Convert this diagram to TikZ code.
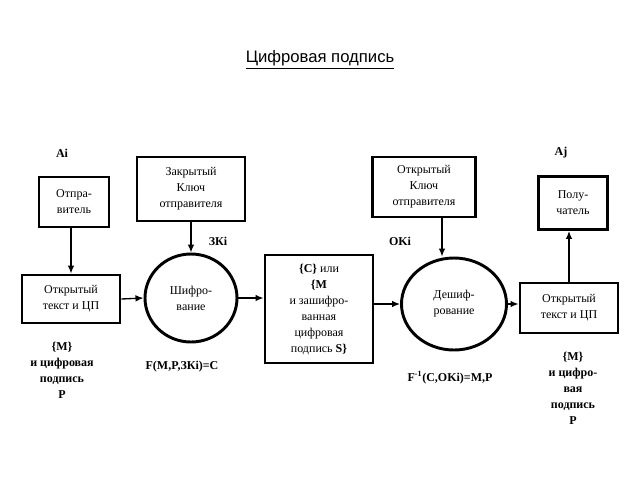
\documentclass[tikz,border=0pt]{standalone}
\usepackage{fontspec}
\setmainfont{Liberation Serif}
\newfontfamily\titlefont{Liberation Sans}
\usetikzlibrary{arrows.meta,shapes.geometric}
\begin{document}
\begin{tikzpicture}[x=0.75pt,y=-0.75pt,
  box/.style={draw,line width=2.2pt,align=center,inner sep=1pt,font=\fontsize{9}{12}\selectfont},
  oval/.style={draw,ellipse,line width=2.2pt,align=center,inner sep=0pt,font=\fontsize{9}{12}\selectfont},
  lbl/.style={align=center,font=\bfseries\fontsize{9}{12}\selectfont,inner sep=0pt},
  arr/.style={line width=1pt,-{Latex[length=6pt,width=5pt]}}]
\useasboundingbox (0,0) rectangle (640,480);
\node[font=\titlefont\fontsize{12.5}{14}\selectfont] (title) at (320,60) {\underline{Цифровая подпись}};

\node[lbl] (ai) at (62,153) {Ai};
\node[lbl] (aj) at (561,153) {Aj};

\node[box,minimum width=52.5pt,minimum height=37.5pt] (snd) at (74,202) {Отпра-\\витель};
\node[box,minimum width=81pt,minimum height=48pt] (zk) at (191,189) {Закрытый\\Ключ\\отправителя};
\node[box,minimum width=73.5pt,minimum height=36pt] (lt) at (71,299) {Открытый\\текст и ЦП};
\node[oval,minimum width=69pt,minimum height=66pt] (enc) at (191,298) {Шифро-\\вание};
\node[box,minimum width=81pt,minimum height=81pt] (mid) at (319,309) {\textbf{\{C\}} или\\\textbf{\{M}\\и зашифро-\\ванная\\цифровая\\подпись \textbf{S\}}};
\node[oval,minimum width=78.75pt,minimum height=69pt] (dec) at (454,304) {Дешиф-\\рование};
\node[box,minimum width=77.25pt,minimum height=45pt] (ok) at (424,187) {Открытый\\Ключ\\отправителя};
\node[box,minimum width=73.5pt,minimum height=37.5pt] (rt) at (569,308) {Открытый\\текст и ЦП};
\node[box,minimum width=51.75pt,minimum height=39.75pt] (rcv) at (573,203) {Полу-\\чатель};

\node[lbl] (zki) at (218,241) {ЗКi};
\node[lbl] (oki) at (400,241) {OKi};
\node[lbl] (ll) at (62,370) {\{M\}\\и цифровая\\подпись\\P};
\node[lbl] (fl) at (182,367) {F(M,P,ЗКi)=C};
\node[lbl] (fr) at (450,378) {F\textsuperscript{-1}(C,OKi)=M,P};
\node[lbl] (rl) at (573,388) {\{M\}\\и цифро-\\вая\\подпись\\P};

\draw[arr] (snd.south -| lt.north) -- (lt.north);
\draw[arr] (lt.east) -- (enc.west);
\draw[arr] (zk.south) -- (enc.north);
\draw[arr] (enc.east) -- (mid.west |- enc.east);
\draw[arr] (mid.east |- dec.west) -- (dec.west);
\path (ok.south) ++(18,0) coordinate (okp);
\draw[arr] (okp) -- (okp |- dec.north);
\draw[arr] (dec.east) -- (rt.west |- dec.east);
\draw[arr] (rt.north) -- (rt.north |- rcv.south);
\end{tikzpicture}
\end{document}
